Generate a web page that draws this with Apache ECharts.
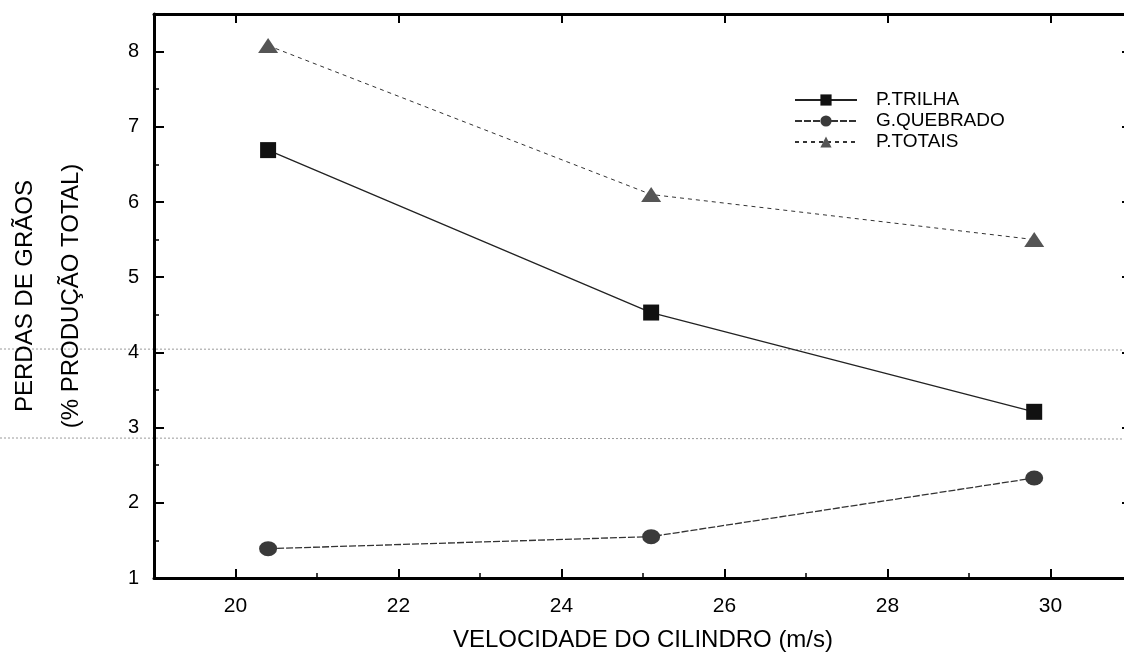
<!DOCTYPE html>
<html>
  <head>
    <meta charset="utf-8" />
    <title>Perdas de grãos</title>
    <script src="https://cdn.jsdelivr.net/npm/echarts@6.0.0/dist/echarts.min.js"></script>
  </head>
  <body style="margin: 0; padding: 0; border: 0; background: #fff">
    <div id="main" style="width: 1124px; height: 657px"></div>
    <script type="text/javascript">
      // velocidade do cilindro (m/s)
      var velocidade = [20.4, 25.1, 29.8];
      var pTrilha = [6.69, 4.53, 3.21];
      var gQuebrado = [1.39, 1.55, 2.33];
      var pTotais = [8.08, 6.1, 5.5];
      var xTicks = [20, 22, 24, 26, 28, 30];

      function pairs(ys) {
        return velocidade.map(function (x, i) {
          return [x, ys[i]];
        });
      }

      var font = "Liberation Sans";
      var ink = "#000";

      var myChart = echarts.init(document.getElementById("main"));

      var frameAxis = {
        min: 19,
        max: 31,
        axisLine: { show: true, lineStyle: { color: ink, width: 3 } },
        splitLine: { show: false },
      };

      myChart.setOption({
        animation: false,
        backgroundColor: "#fff",
        grid: {
          left: 154,
          right: -8,
          top: 14,
          bottom: 79,
          containLabel: false,
          outerBoundsMode: "none",
        },
        legend: {
          orient: "vertical",
          left: 789,
          top: 85,
          itemWidth: 62,
          itemHeight: 14,
          itemGap: 1,
          textStyle: {
            fontFamily: font,
            fontSize: 19,
            lineHeight: 20,
            color: ink,
            padding: [0, 0, 0, 14],
          },
          data: ["P.TRILHA", "G.QUEBRADO", "P.TOTAIS"],
        },
        xAxis: [
          Object.assign({}, frameAxis, {
            type: "value",
            position: "bottom",
            name: "VELOCIDADE DO CILINDRO (m/s)",
            nameLocation: "middle",
            nameGap: 50,
            nameTextStyle: { fontFamily: font, fontSize: 24, color: ink },
            axisTick: {
              inside: true,
              length: 9,
              customValues: xTicks,
              lineStyle: { color: ink, width: 2 },
            },
            axisLabel: {
              customValues: xTicks,
              margin: 18,
              fontFamily: font,
              fontSize: 21,
              color: ink,
            },
          }),
          Object.assign({}, frameAxis, {
            type: "value",
            position: "bottom",
            interval: 1,
            axisLine: { show: false },
            axisTick: { inside: true, length: 5, lineStyle: { color: ink, width: 1.5 } },
            axisLabel: { show: false },
          }),
          Object.assign({}, frameAxis, {
            type: "value",
            position: "top",
            axisTick: {
              inside: true,
              length: 9,
              customValues: xTicks,
              lineStyle: { color: ink, width: 2 },
            },
            axisLabel: { show: false },
          }),
        ],
        yAxis: [
          {
            type: "value",
            position: "left",
            min: 1,
            max: 8.5,
            interval: 1,
            name: "PERDAS DE GRÃOS\n(% PRODUÇÃO TOTAL)",
            nameLocation: "middle",
            nameRotate: 90,
            nameGap: 60,
            nameTextStyle: {
              fontFamily: font,
              fontSize: 24,
              lineHeight: 46,
              color: ink,
              align: "center",
            },
            axisLine: { show: true, lineStyle: { color: ink, width: 3 } },
            axisTick: { inside: true, length: 10, lineStyle: { color: ink, width: 2 } },
            minorTick: {
              show: true,
              splitNumber: 2,
              length: 5,
              lineStyle: { color: ink, width: 1.5 },
            },
            axisLabel: {
              showMaxLabel: false,
              margin: 15,
              fontFamily: font,
              fontSize: 20,
              color: ink,
            },
            splitLine: { show: false },
          },
          {
            type: "value",
            position: "right",
            min: 1,
            max: 8.5,
            interval: 1,
            axisLine: { show: true, lineStyle: { color: ink, width: 3 } },
            axisTick: { inside: true, length: 10, lineStyle: { color: ink, width: 2 } },
            minorTick: {
              show: true,
              splitNumber: 2,
              length: 5,
              lineStyle: { color: ink, width: 1.5 },
            },
            axisLabel: { show: false },
            splitLine: { show: false },
          },
        ],
        graphic: [
          {
            type: "line",
            shape: { x1: 0, y1: 349, x2: 1124, y2: 350 },
            style: { stroke: "#999", lineWidth: 1, lineDash: [2, 2] },
            z: -1,
          },
          {
            type: "line",
            shape: { x1: 0, y1: 438, x2: 1124, y2: 439 },
            style: { stroke: "#999", lineWidth: 1, lineDash: [2, 2] },
            z: -1,
          },
        ],
        series: [
          {
            name: "P.TRILHA",
            type: "line",
            data: pairs(pTrilha),
            symbol: "rect",
            symbolSize: 16,
            itemStyle: { color: "#111" },
            lineStyle: { color: "#222", width: 1.3 },
          },
          {
            name: "G.QUEBRADO",
            type: "line",
            data: pairs(gQuebrado),
            symbol: "circle",
            symbolSize: [18, 15],
            itemStyle: { color: "#3a3a3a" },
            lineStyle: { color: "#333", width: 1.3, type: [7, 2] },
          },
          {
            name: "P.TOTAIS",
            type: "line",
            data: pairs(pTotais),
            symbol: "triangle",
            symbolSize: [20, 15],
            itemStyle: { color: "#555" },
            lineStyle: { color: "#333", width: 1, type: [4, 4] },
          },
        ],
      });
    </script>
  </body>
</html>
